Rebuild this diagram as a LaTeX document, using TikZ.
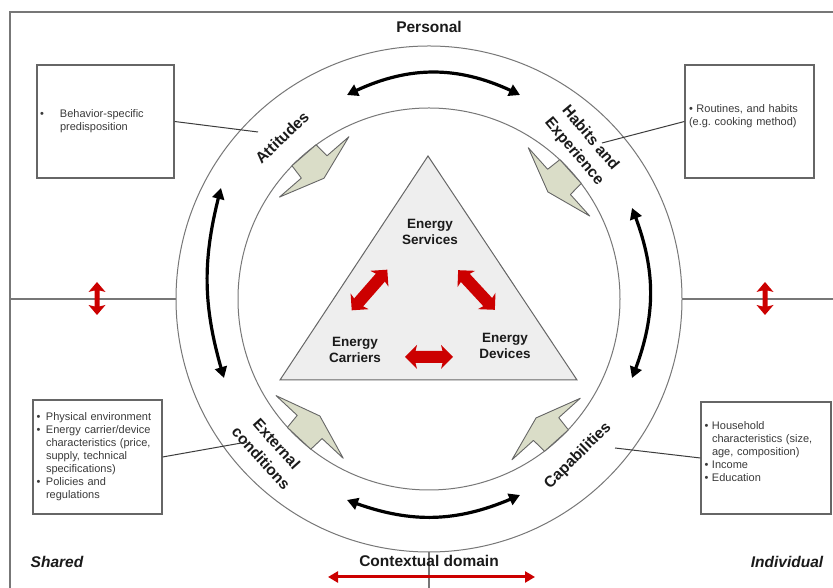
\documentclass[tikz,border=0pt]{standalone}
\usepackage{fontspec}
\setmainfont{Liberation Sans}
\usetikzlibrary{arrows.meta,bending}
\definecolor{linegray}{HTML}{777777}
\definecolor{boxgray}{HTML}{666666}
\definecolor{boltfill}{RGB}{218,221,200}
\definecolor{trifill}{HTML}{EEEEEE}
\definecolor{redarrow}{RGB}{204,0,0}
\definecolor{txtgray}{HTML}{3A3A3A}
\definecolor{darktxt}{HTML}{1A1A1A}
\newcommand{\bul}[1]{\makebox[#1][l]{\textbullet}}
\newcommand{\dblarrow}[7]{%
  \begin{scope}[shift={(#1,#2)},rotate=#3]
    \fill[redarrow] ({-#4},0) -- ({-#4+#7},#6) -- ({-#4+#7-1.5},#5) -- ({#4-#7+1.5},#5) -- ({#4-#7},#6) -- ({#4},0)
      -- ({#4-#7},-#6) -- ({#4-#7+1.5},-#5) -- ({-#4+#7-1.5},-#5) -- ({-#4+#7},-#6) -- cycle;
  \end{scope}}
\begin{document}
\begin{tikzpicture}[x=1pt,y=1pt,
  frame/.style={draw=linegray,line width=1.2pt},
  ring/.style={draw=linegray,line width=1pt},
  bolt/.style={fill=boltfill,draw=boxgray,line width=0.9pt,line join=round},
  tri/.style={fill=trifill,draw=boxgray,line width=1pt},
  conn/.style={draw=darktxt!85,line width=1pt},
  infobox/.style={draw=boxgray,line width=1.2pt,align=left,text=txtgray,inner ysep=2pt,
    font=\fontsize{11}{13}\selectfont},
  ringlabel/.style={font=\fontsize{15.5}{18}\selectfont\bfseries,text=darktxt,align=center,inner sep=0pt},
  trilabel/.style={font=\fontsize{13.5}{16}\selectfont\bfseries,text=darktxt,align=center,inner sep=0pt},
  biglabel/.style={font=\fontsize{15.5}{18}\selectfont\bfseries,text=darktxt,inner sep=0pt},
  blackarc/.style={draw=black,line width=3.2pt,{Triangle[length=11pt,width=12pt,flex]}-{Triangle[length=11pt,width=12pt,flex]}},
  redline/.style={draw=redarrow,line width=3pt,{Triangle[length=10pt,width=11pt]}-{Triangle[length=10pt,width=11pt]}}
]
\useasboundingbox (0,0) rectangle (833,588);
\fill[white] (0,0) rectangle (833,588);

% frame and dividing lines
\coordinate (C) at (429,289);
\coordinate (frTL) at (10,576);
\coordinate (frTR) at (833,576);
\coordinate (frBL) at (10,0);
\draw[frame] (frTR) -- (frTL) -- (frBL);
\coordinate (hL) at (10,289);
\coordinate (cL) at (176,289);
\coordinate (cR) at (682,289);
\coordinate (hR) at (833,289);
\draw[frame] (hL) -- (cL);
\draw[frame] (cR) -- (hR);
\coordinate (cB) at (429,36);
\coordinate (vB) at (429,0);
\draw[frame] (cB) -- (vB);

% circles
\draw[ring] (C) circle[radius=253];
\draw[ring] (C) circle[radius=191];

% lightning shapes
\foreach \a in {131,42,227,-48} {
  \pgfmathsetmacro\rr{\a-90}
  \begin{scope}[shift={({429+175*cos(\a)},{289+175*sin(\a)})},rotate=\rr]
    \filldraw[bolt] (46,0) -- (17,0) -- (16,15.5) -- (-16,15.5) -- (-17,0) -- (-46,0) -- (0,-15) -- cycle;
  \end{scope}
}

% triangle
\coordinate (tA) at (428,432);
\coordinate (tB) at (280,208);
\coordinate (tC) at (577,208);
\filldraw[tri] (tA) -- (tB) -- (tC) -- cycle;
\node[trilabel] (serv) at (430,356) {Energy\\Services};
\node[trilabel] (carr) at (355,238) {Energy\\Carriers};
\node[trilabel] (dev) at (505,242) {Energy\\Devices};

% red block arrows
\dblarrow{369.5}{298}{48.8}{27}{6}{12}{12}
\dblarrow{476.5}{298}{-47.2}{27}{6}{12}{12}
\dblarrow{429}{231}{0}{24}{6}{12}{12}
\dblarrow{97}{289.5}{90}{16.5}{2.5}{8.5}{10}
\dblarrow{765}{289.5}{90}{16.5}{2.5}{8.5}{10}

% black curved arrows
\coordinate (ta1) at (347,493);
\coordinate (ta2) at (520,493);
\draw[blackarc] (ta1) to[bend left=27] (ta2);
\coordinate (ra1) at (632,380);
\coordinate (ra2) at (632,210);
\draw[blackarc] (ra1) to[bend left=22] (ra2);
\coordinate (ba1) at (347,88);
\coordinate (ba2) at (520,93);
\draw[blackarc] (ba1) to[bend right=23] (ba2);
\coordinate (la1) at (221,400);
\coordinate (la2) at (224,210);
\draw[blackarc] (la1) to[bend right=16] (la2);

% ring labels
\node[ringlabel,rotate=44] (att) at (282,450.5) {Attitudes};
\node[ringlabel,rotate=-50] (hab) at (582,443) {Habits and\\[3pt]Experience};
\node[ringlabel,rotate=-48] (ext) at (269,137) {External\\[3pt]conditions};
\node[ringlabel,rotate=45] (cap) at (578,132) {Capabilities};

% boxes
\node[infobox,inner xsep=3pt,text width=131pt,minimum height=113pt] (bTL) at (105.5,466.5)
  {\bul{20pt}Behavior-specific\\\hspace*{20pt}predisposition};
\node[infobox,inner xsep=4pt,text width=121pt,minimum height=113pt] (bTR) at (749.5,466.5)
  {\bul{7.5pt}Routines, and habits\\(e.g.\ cooking method)\\\mbox{}};
\node[infobox,inner xsep=3.5pt,text width=122pt,minimum height=114pt] (bBL) at (97.5,131)
  {\bul{9.5pt}Physical environment\\\bul{9.5pt}Energy carrier/device\\\hspace*{9.5pt}characteristics (price,\\\hspace*{9.5pt}supply, technical\\\hspace*{9.5pt}specifications)\\\bul{9.5pt}Policies and\\\hspace*{9.5pt}regulations};
\node[infobox,inner xsep=3.5pt,text width=123pt,minimum height=112pt] (bBR) at (766,130)
  {\bul{7.5pt}Household\\\hspace*{7.5pt}characteristics (size,\\\hspace*{7.5pt}age, composition)\\\bul{7.5pt}Income\\\bul{7.5pt}Education\\\mbox{}};

% connectors from boxes to ring labels
\coordinate (eTL) at (258,456);
\coordinate (eTR) at (602,445);
\coordinate (eBL) at (247,146);
\coordinate (eBR) at (615,140);
\draw[conn] (bTL.east) -- (eTL);
\draw[conn] (bTR.west) -- (eTR);
\draw[conn] (bBL.east) -- (eBL);
\draw[conn] (bBR.west) -- (eBR);

% outer labels
\node[biglabel] (pers) at (429,561) {Personal};
\node[biglabel] (ctx) at (429,27) {Contextual domain};
\node[biglabel,font=\fontsize{15.5}{18}\selectfont\bfseries\itshape] (shared) at (57,26) {Shared};
\node[biglabel,font=\fontsize{15.5}{18}\selectfont\bfseries\itshape] (indiv) at (787,26) {Individual};

% contextual arrow
\coordinate (ca1) at (328,11);
\coordinate (ca2) at (535,11);
\draw[redline] (ca1) -- (ca2);
\end{tikzpicture}
\end{document}
